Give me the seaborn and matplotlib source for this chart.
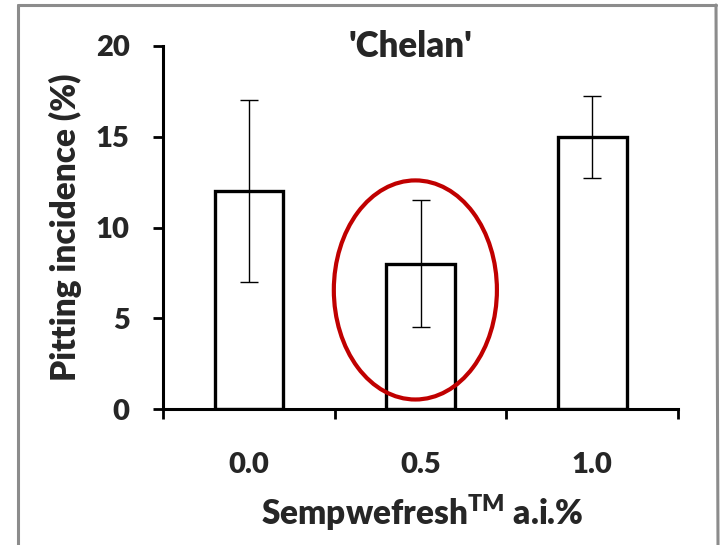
import matplotlib
matplotlib.use("Agg")
import matplotlib.pyplot as plt
from matplotlib.patches import Ellipse
from matplotlib.lines import Line2D
import seaborn as sns
import pandas as pd

# Treatment doses (a.i. %) and pitting incidence with error half-widths
doses = ["0.0", "0.5", "1.0"]
incidence = [12.0, 8.0, 15.0]
errors = [5.0, 3.5, 2.25]
y_ticks = [0, 5, 10, 15, 20]

sns.set_theme(style="white")
plt.rcParams["font.family"] = ["Lato", "DejaVu Sans"]
plt.rcParams["font.weight"] = "heavy"

WEIGHT = "heavy"

df = pd.DataFrame({"dose": doses, "incidence": incidence})

fig = plt.figure(figsize=(7.21, 5.45), dpi=100)
ax = fig.add_axes([0.2261, 0.2495, 0.9404 - 0.2261, 0.9156 - 0.2495])

sns.barplot(data=df, x="dose", y="incidence", order=doses, width=0.4,
            color="white", edgecolor="black", linewidth=2.4,
            errorbar=None, ax=ax, zorder=2)
ax.errorbar(range(len(doses)), incidence, yerr=errors, fmt="none",
            ecolor="black", elinewidth=1.0, capsize=6.5, capthick=1.0, zorder=3)

ax.set_xlim(-0.5, len(doses) - 0.5)
ax.set_ylim(0, 20)
ax.set_yticks(y_ticks)
ax.set_yticklabels([str(t) for t in y_ticks])

for side in ("top", "right"):
    ax.spines[side].set_visible(False)
for side in ("left", "bottom"):
    ax.spines[side].set_linewidth(2.2)
    ax.spines[side].set_color("black")

# Category labels without ticks; boundary ticks between categories
ax.set_xticks(range(len(doses)))
ax.set_xticks([i - 0.5 for i in range(len(doses) + 1)], minor=True)
ax.tick_params(axis="x", which="major", length=0, pad=31, labelsize=21)
ax.tick_params(axis="x", which="minor", direction="out", length=7, width=2.0,
               color="black", bottom=True)
ax.tick_params(axis="y", direction="out", length=7, width=2.0, color="black",
               left=True, pad=17, labelsize=21)
for lbl in ax.get_xticklabels() + ax.get_yticklabels():
    lbl.set_fontweight(WEIGHT)

ax.set_ylabel("Pitting incidence (%)", fontsize=24, fontweight=WEIGHT)
ax.yaxis.set_label_coords(-0.157, 0.5)
ax.set_xlabel(r"Sempwefresh$^{\mathregular{TM}}$ a.i.%", fontsize=24,
              fontweight=WEIGHT)
ax.xaxis.set_label_coords(0.503, -0.228)

ax.text(0.48, 0.97, "'Chelan'", transform=ax.transAxes, ha="center",
        va="baseline", fontsize=25, fontweight=WEIGHT)

# Highlight ring around the middle treatment
ax.add_patch(Ellipse((0.97, 6.56), 0.95, 12.07, fill=False,
                     edgecolor="#c00000", linewidth=3.0, zorder=4,
                     clip_on=False))

# Gray frame around the panel
W, H = 721, 545
frame_kw = dict(color="#8c8c8c", linewidth=2.2, transform=fig.transFigure)
fig.add_artist(Line2D([18 / W, 716 / W], [1 - 5 / H, 1 - 5 / H], **frame_kw))
fig.add_artist(Line2D([18 / W, 18 / W], [1 - 5 / H, 0], **frame_kw))
fig.add_artist(Line2D([716 / W, 718 / W], [1 - 5 / H, 0], **frame_kw))

fig.savefig("out.png", dpi=100, facecolor="white")
